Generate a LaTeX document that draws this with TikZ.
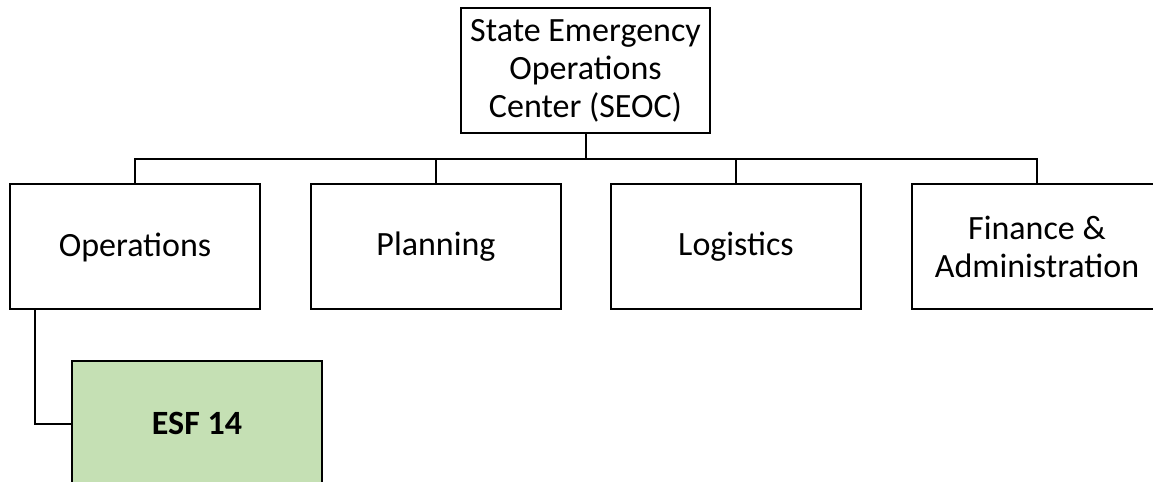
\documentclass[tikz,border=0pt]{standalone}
\usepackage{fontspec}
\setmainfont{Carlito}
\definecolor{esfgreen}{HTML}{C5E0B4}
\begin{document}
\begin{tikzpicture}[x=1bp,y=-1bp,
  box/.style={draw=black,line width=2bp,minimum width=250bp,minimum height=125bp,inner sep=0pt,align=center,
    font=\fontsize{34bp}{38bp}\selectfont},
  link/.style={draw=black,line width=2bp}]
\clip (0,0) rectangle (1153,482);
\fill[white] (0,0) rectangle (1153,482);
\node[box,minimum width=249bp] (seoc) at (585.5,70.5) {State Emergency\\Operations\\Center (SEOC)};
\node[box] (ops) at (135,247) {Operations};
\node[box] (plan) at (436,247) {Planning};
\node[box] (logi) at (736,247) {Logistics};
\node[box] (fin) at (1037,247) {Finance \&\\Administration};
\node[box,fill=esfgreen,font=\fontsize{34bp}{38bp}\selectfont\bfseries] (esf) at (197,423.5) {ESF 14};
\coordinate (bus) at (585.5,159);
\draw[link] (seoc.south) -- (bus);
\draw[link] (ops.north) |- (bus) -| (fin.north);
\draw[link] (plan.north) |- (bus);
\draw[link] (logi.north) |- (bus);
\draw[link] ([xshift=-100bp]ops.south) |- (esf.west);
\end{tikzpicture}
\end{document}
